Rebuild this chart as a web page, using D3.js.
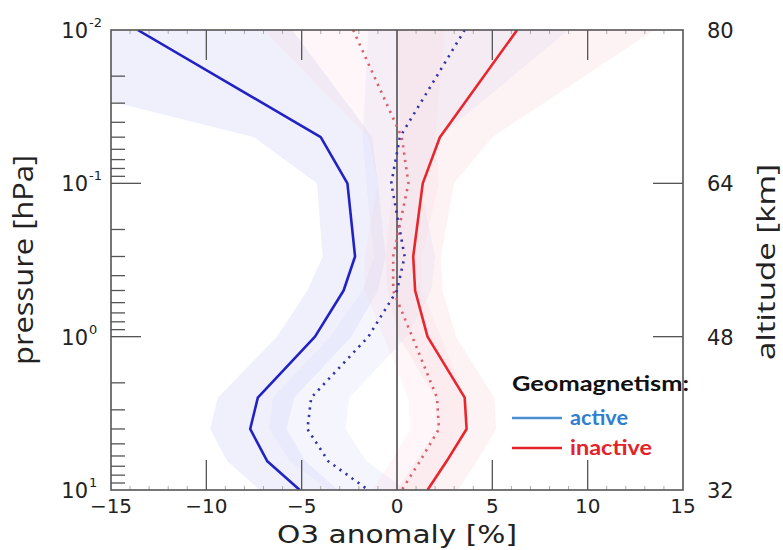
<!DOCTYPE html>
<html>
<head>
<meta charset="utf-8">
<script src="https://cdn.jsdelivr.net/npm/d3@7"></script>
<style>
  html, body { margin: 0; padding: 0; background: #fff; }
  svg { display: block; }
</style>
</head>
<body>
<svg id="chart" width="783" height="550"></svg>
<script>
// ---------- data ----------
const pressureLevels = [0.01, 0.05, 0.1, 0.3, 0.5, 1, 2.5, 4, 6.5, 10];

const activeSolid    = [-13.6, -4.0, -2.6, -2.2, -2.8, -4.3, -7.3, -7.7, -6.8, -5.1];
const inactiveSolid  = [6.3, 2.25, 1.35, 0.85, 0.95, 1.6, 3.55, 3.65, 2.6, 1.6];
const activeDotted   = [3.55, 0.15, -0.3, 0.4, 0.0, -1.5, -4.5, -4.7, -3.6, -1.5];
const inactiveDotted = [-2.3, 0.25, 0.6, -0.2, -0.2, 0.8, 2.1, 2.2, 1.2, 0.25];

const activeSolidLo    = [-30, -7.5, -4.2, -3.9, -4.7, -6.3, -9.4, -9.8, -8.9, -7.2];
const activeSolidHi    = [-5.5, -1.3, -1.0, -0.6, -1.0, -2.4, -5.4, -5.8, -4.8, -3.1];
const activeDottedLo   = [-1.5, -1.8, -1.6, -1.2, -1.8, -3.5, -6.5, -6.7, -5.6, -3.6];
const activeDottedHi   = [9.0, 2.2, 1.2, 2.0, 1.8, 0.5, -2.5, -2.7, -1.6, 0.5];
const inactiveSolidLo  = [0.0, 0.2, -0.2, -0.6, -0.5, 0.1, 2.0, 2.1, 1.0, 0.0];
const inactiveSolidHi  = [13.5, 5.0, 3.0, 2.3, 2.4, 3.1, 5.1, 5.2, 4.2, 3.2];
const inactiveDottedLo = [-7.0, -1.5, -1.0, -1.7, -1.7, -0.7, 0.6, 0.7, -0.3, -1.3];
const inactiveDottedHi = [2.5, 2.0, 2.2, 1.3, 1.3, 2.3, 3.6, 3.7, 2.7, 1.8];

const xTicks = [-15, -10, -5, 0, 5, 10, 15];
const yMajorTicks = [0.01, 0.1, 1, 10];
const yTickExponents = ["-2", "-1", "0", "1"];
const altitudeLabels = ["80", "64", "48", "32"];

// ---------- layout ----------
const svg = d3.select("#chart");
const L = 111, R = 683, T = 30, B = 490;
const x = d3.scaleLinear().domain([-15, 15]).range([L, R]);
const y = d3.scaleLog().domain([0.01, 10]).range([T, B]);

svg.append("defs").append("clipPath").attr("id", "clip")
  .append("rect").attr("x", L).attr("y", T).attr("width", R - L).attr("height", B - T);

const plot = svg.append("g").attr("clip-path", "url(#clip)");

function bandData(lo, hi) {
  return pressureLevels.map((p, i) => ({ p, lo: lo[i], hi: hi[i] }));
}
const area = d3.area()
  .y(d => y(d.p))
  .x0(d => x(d.lo))
  .x1(d => x(d.hi));

const bands = [
  { lo: activeSolidLo, hi: activeSolidHi, fill: "rgb(205,208,246)", op: 0.32 },
  { lo: activeDottedLo, hi: activeDottedHi, fill: "rgb(215,218,248)", op: 0.26 },
  { lo: inactiveSolidLo, hi: inactiveSolidHi, fill: "rgb(246,200,210)", op: 0.22 },
  { lo: inactiveDottedLo, hi: inactiveDottedHi, fill: "rgb(248,212,218)", op: 0.2 }
];
bands.forEach(b => {
  plot.append("path")
    .datum(bandData(b.lo, b.hi))
    .attr("d", area)
    .attr("fill", b.fill)
    .attr("fill-opacity", b.op)
    .attr("stroke", "none");
});

// zero line
plot.append("line")
  .attr("x1", x(0)).attr("x2", x(0)).attr("y1", T).attr("y2", B)
  .attr("stroke", "#707070").attr("stroke-width", 2);

const line = d3.line().x(d => x(d.v)).y(d => y(d.p));
function lineData(vals) { return pressureLevels.map((p, i) => ({ p, v: vals[i] })); }

const series = [
  { vals: activeDotted, color: "#3434a8", dash: "2.2,5.2", w: 2.6 },
  { vals: inactiveDotted, color: "#d8606c", dash: "2.2,5.2", w: 2.6 },
  { vals: activeSolid, color: "#2222c4", dash: null, w: 2.6 },
  { vals: inactiveSolid, color: "#e8262c", dash: null, w: 2.6 }
];
series.forEach(s => {
  const p = plot.append("path")
    .datum(lineData(s.vals))
    .attr("d", line)
    .attr("fill", "none")
    .attr("stroke", s.color)
    .attr("stroke-width", s.w)
    .attr("stroke-linejoin", "round");
  if (s.dash) p.attr("stroke-dasharray", s.dash);
});

// ---------- axes / frame ----------
const axG = svg.append("g").attr("stroke", "#555").attr("stroke-width", 1.3);

// minor x ticks
d3.range(-14, 15, 1).forEach(v => {
  if (v % 5 === 0) return;
  [[T, T + 4], [B, B - 4]].forEach(([a, b]) => {
    svg.append("line").attr("x1", x(v)).attr("x2", x(v)).attr("y1", a).attr("y2", b)
      .attr("stroke", "#aaa").attr("stroke-width", 1);
  });
});
// major x ticks
xTicks.forEach(v => {
  if (v === -15 || v === 15 || v === 0) return;
  axG.append("line").attr("x1", x(v)).attr("x2", x(v)).attr("y1", T).attr("y2", T + 30);
  axG.append("line").attr("x1", x(v)).attr("x2", x(v)).attr("y1", B).attr("y2", B - 30);
});
// y ticks (left minor + major, right major)
for (let e = -2; e < 1; e++) {
  for (let m = 2; m <= 9; m++) {
    const p = m * Math.pow(10, e);
    axG.append("line").attr("x1", L).attr("x2", L + 14).attr("y1", y(p)).attr("y2", y(p));
  }
}
yMajorTicks.forEach(p => {
  if (p === 0.01 || p === 10) return;
  axG.append("line").attr("x1", L).attr("x2", L + 30).attr("y1", y(p)).attr("y2", y(p));
  axG.append("line").attr("x1", R).attr("x2", R - 30).attr("y1", y(p)).attr("y2", y(p));
});

svg.append("rect").attr("x", L).attr("y", T).attr("width", R - L).attr("height", B - T)
  .attr("fill", "none").attr("stroke", "#555").attr("stroke-width", 1.6);

// ---------- tick labels ----------
const tickFont = "'DejaVu Sans', sans-serif";
xTicks.forEach(v => {
  svg.append("text")
    .attr("x", x(v)).attr("y", 513)
    .attr("text-anchor", "middle")
    .attr("font-family", tickFont).attr("font-size", 20)
    .attr("fill", "#222")
    .text(v < 0 ? "\u2212" + Math.abs(v) : String(v));
});
yMajorTicks.forEach((p, i) => {
  svg.append("text")
    .attr("x", 88).attr("y", y(p) + 8)
    .attr("text-anchor", "end")
    .attr("font-family", tickFont).attr("font-size", 21)
    .attr("fill", "#222").text("10");
  svg.append("text")
    .attr("x", 89).attr("y", y(p) - 3)
    .attr("text-anchor", "start")
    .attr("font-family", tickFont).attr("font-size", 13)
    .attr("fill", "#222").text(yTickExponents[i]);
  svg.append("text")
    .attr("x", 707).attr("y", y(p) + 8)
    .attr("text-anchor", "start")
    .attr("font-family", tickFont).attr("font-size", 21)
    .attr("fill", "#222").text(altitudeLabels[i]);
});

// ---------- axis titles ----------
svg.append("text")
  .attr("x", 397).attr("y", 543)
  .attr("text-anchor", "middle")
  .attr("font-family", tickFont).attr("font-size", 24)
  .attr("fill", "#222")
  .attr("textLength", 240).attr("lengthAdjust", "spacingAndGlyphs")
  .text("O3 anomaly [%]");
const titleFont = "'Open Sans', 'DejaVu Sans', sans-serif";
svg.append("text")
  .attr("transform", "translate(33,260) rotate(-90)")
  .attr("text-anchor", "middle")
  .attr("font-family", titleFont).attr("font-size", 27)
  .attr("fill", "#222")
  .attr("textLength", 210).attr("lengthAdjust", "spacingAndGlyphs")
  .text("pressure [hPa]");
svg.append("text")
  .attr("transform", "translate(775,262) rotate(-90)")
  .attr("text-anchor", "middle")
  .attr("font-family", titleFont).attr("font-size", 25)
  .attr("fill", "#222")
  .attr("textLength", 196).attr("lengthAdjust", "spacingAndGlyphs")
  .text("altitude [km]");

// ---------- legend ----------
const legFont = "Lato, 'Open Sans', sans-serif";
svg.append("text")
  .attr("x", 512).attr("y", 391)
  .attr("font-family", legFont).attr("font-weight", 700).attr("font-size", 20)
  .attr("fill", "#111")
  .attr("textLength", 177).attr("lengthAdjust", "spacingAndGlyphs")
  .text("Geomagnetism:");
const legendItems = [
  { label: "active", lineColor: "#4a8fd2", textColor: "#2f7ed0", y: 418, len: 58 },
  { label: "inactive", lineColor: "#e3222a", textColor: "#e3222a", y: 448, len: 82 }
];
legendItems.forEach(d => {
  svg.append("line").attr("x1", 512).attr("x2", 562).attr("y1", d.y).attr("y2", d.y)
    .attr("stroke", d.lineColor).attr("stroke-width", 2.5);
  svg.append("text")
    .attr("x", 570).attr("y", d.y + 7)
    .attr("font-family", legFont).attr("font-weight", 700).attr("font-size", 20)
    .attr("fill", d.textColor)
    .attr("textLength", d.len).attr("lengthAdjust", "spacingAndGlyphs")
    .text(d.label);
});
</script>
</body>
</html>
